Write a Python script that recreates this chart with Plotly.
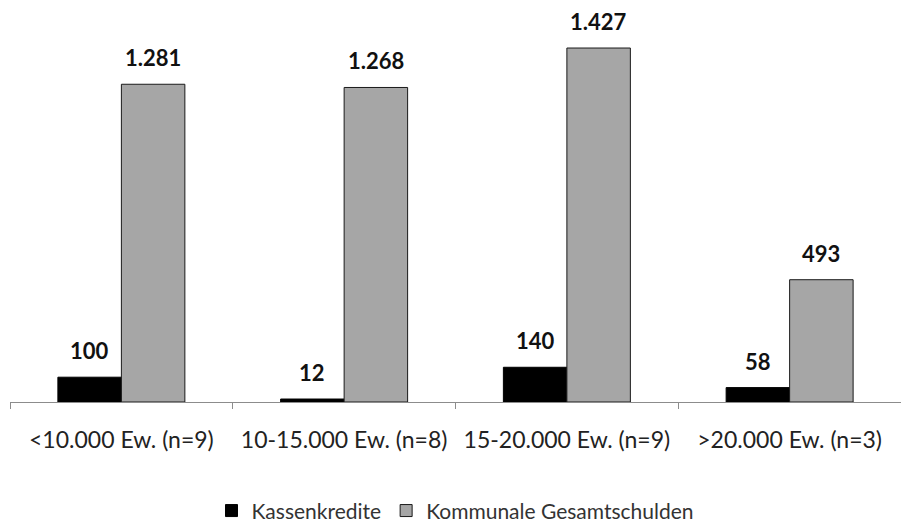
import plotly.graph_objects as go

# Pro-Kopf-Werte je Gemeindegrößenklasse
categories = ["<10.000 Ew. (n=9)", "10-15.000 Ew. (n=8)", "15-20.000 Ew. (n=9)", ">20.000 Ew. (n=3)"]
kassenkredite = [100, 12, 140, 58]
gesamtschulden = [1281, 1268, 1427, 493]

FONT = "Lato, 'Open Sans', sans-serif"
BARGAP = 0.43

fig = go.Figure()
fig.add_trace(go.Bar(
    name="Kassenkredite",
    x=categories, y=kassenkredite,
    marker=dict(color="#000000", line=dict(color="#000000", width=1)),
))
fig.add_trace(go.Bar(
    name="Kommunale Gesamtschulden",
    x=categories, y=gesamtschulden,
    marker=dict(color="#a6a6a6", line=dict(color="#1a1a1a", width=1)),
))


def fmt(v):
    return f"{v:,.0f}".replace(",", ".")


# Wertbeschriftungen über den Balken
half = (1 - BARGAP) / 4
for series, offset in ((kassenkredite, -half), (gesamtschulden, half)):
    for i, v in enumerate(series):
        fig.add_annotation(
            x=i + offset, y=v, xref="x", yref="y",
            text=f"<b>{fmt(v)}</b>", showarrow=False,
            yanchor="bottom", yshift=11,
            font=dict(family=FONT, size=22, color="#111111"),
        )

fig.update_layout(
    width=901, height=524,
    margin=dict(l=10, r=0, t=20, b=122, autoexpand=False),
    paper_bgcolor="white", plot_bgcolor="white",
    barmode="group", bargap=BARGAP, bargroupgap=0,
    font=dict(family=FONT, color="#222222"),
    showlegend=True,
    legend=dict(
        orientation="h", x=0.5, xanchor="center",
        yref="container", y=0.025, yanchor="middle",
        font=dict(size=21, color="#333333"), itemwidth=30,
        traceorder="normal",
    ),
)
fig.update_xaxes(
    type="category", showline=True, linecolor="#8c8c8c", linewidth=1,
    ticks="outside", tickson="boundaries", ticklen=6, tickcolor="#8c8c8c",
    tickfont=dict(size=23, color="#222222"), ticklabelstandoff=17,
    showgrid=False, automargin=False,
)
fig.update_yaxes(range=[0, 1540], visible=False, showgrid=False, zeroline=False)

fig.write_html("out.html")
